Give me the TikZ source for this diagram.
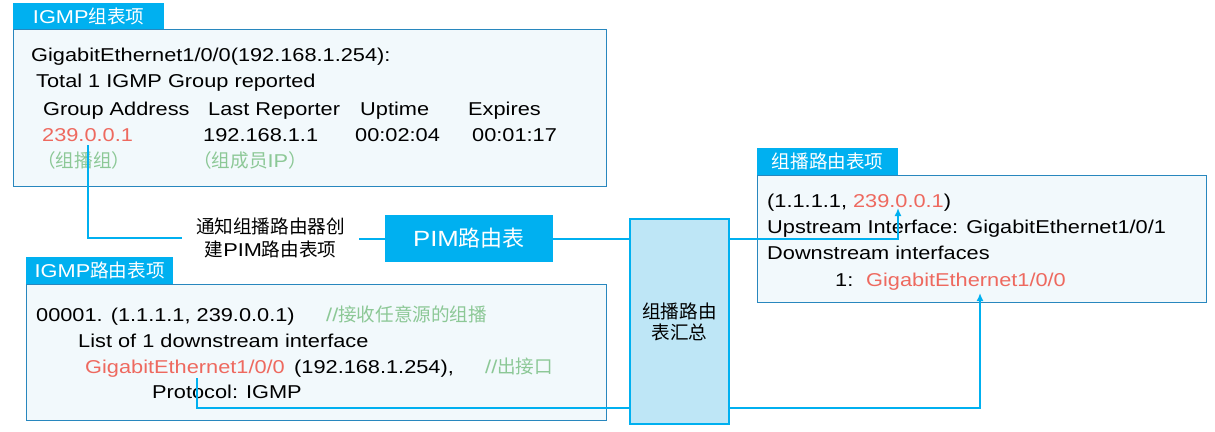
\documentclass[tikz,border=0pt]{standalone}
\usepackage{fontspec}
\setmainfont{Liberation Sans}[FakeStretch=1.17]
\newfontfamily\cjk{Noto Sans CJK SC}
\usetikzlibrary{arrows.meta}
\definecolor{skyb}{RGB}{0,176,240}
\definecolor{boxline}{RGB}{40,135,190}
\definecolor{boxfill}{RGB}{242,249,252}
\definecolor{sumfill}{RGB}{190,230,246}
\definecolor{redt}{RGB}{238,105,95}
\definecolor{greent}{RGB}{140,200,150}
\newcommand\myfs{\fontsize{18.6}{22}\selectfont}
\newcommand\zh[1]{{\cjk #1}}
\tikzset{
  txt/.style={inner sep=0pt, anchor=base west, font=\myfs},
  box/.style={draw=boxline, line width=1.2pt, fill=boxfill, anchor=north west, inner sep=0pt},
  tabbox/.style={fill=skyb, anchor=north west, inner sep=0pt, text=white, font=\myfs},
  conn/.style={draw=skyb, line width=2pt},
  tipped/.style={-{Latex[length=8pt,width=7pt]}},
}
\begin{document}
\begin{tikzpicture}[x=1pt,y=-1pt]
\useasboundingbox (0,0) rectangle (1215,431);

% ---------- IGMP group table box
\node[box, minimum width=593pt, minimum height=157pt] (g1) at (13,29) {};
\node[tabbox, minimum width=151pt, minimum height=26pt] (t1) at (13,3) {IGMP\zh{组表项}};
\node[txt] (g1a) at (31,61) {GigabitEthernet1/0/0(192.168.1.254):};
\node[txt] (g1b) at (36,87) {Total 1 IGMP Group reported};
\node[txt] (g1c) at (43,115) {Group Address};
\node[txt] (g1d) at (208,115) {Last Reporter};
\node[txt] (g1e) at (360,115) {Uptime};
\node[txt] (g1f) at (468,115) {Expires};
\node[txt, text=redt] (g1g) at (42,141) {239.0.0.1};
\node[txt] (g1h) at (203,141) {192.168.1.1};
\node[txt] (g1i) at (355,141) {00:02:04};
\node[txt] (g1j) at (472,141) {00:01:17};
\node[txt, text=greent] (g1k) at (37,167) {\zh{（组播组）}};
\node[txt, text=greent] (g1l) at (193,167) {\zh{（组成员}IP\zh{）}};

% ---------- IGMP routing table box
\node[box, minimum width=580pt, minimum height=136pt] (g2) at (26,284) {};
\node[tabbox, minimum width=147pt, minimum height=27pt] (t2) at (26,257) {IGMP\zh{路由表项}};
\node[txt] (g2a) at (36,321) {00001. (1.1.1.1, 239.0.0.1)};
\node[txt, text=greent] (g2b) at (326,321) {//\zh{接收任意源的组播}};
\node[txt] (g2c) at (78,347) {List of 1 downstream interface};
\node[txt, text=redt] (g2d) at (85,373) {GigabitEthernet1/0/0};
\node[txt] (g2e) at (294,373) {(192.168.1.254),};
\node[txt, text=greent] (g2f) at (485,373) {//\zh{出接口}};
\node[txt] (g2g) at (152,398) {Protocol: IGMP};

% ---------- multicast routing table box
\node[box, minimum width=449pt, minimum height=127pt] (g3) at (757,175) {};
\node[tabbox, minimum width=141pt, minimum height=27pt] (t3) at (757,148) {\zh{组播路由表项}};
\node[txt] (g3a) at (767,207) {(1.1.1.1, \textcolor{redt}{239.0.0.1})};
\node[txt] (g3b) at (767,233) {Upstream Interface: GigabitEthernet1/0/1};
\node[txt] (g3c) at (767,259) {Downstream interfaces};
\node[txt] (g3d) at (835,286) {1:};
\node[txt, text=redt] (g3e) at (866,286) {GigabitEthernet1/0/0};

% ---------- PIM box and label
\node[fill=skyb, text=white, inner sep=0pt, minimum width=168pt, minimum height=47pt,
      font=\fontsize{22}{26}\selectfont] (pim) at (469,238.5) {PIM\zh{路由表}};
\node[inner sep=0pt, minimum width=177pt, align=center,
      font=\fontsize{18.6}{23}\selectfont] (lbl) at (270.5,238) {\zh{通知组播路由器创}\\\zh{建}PIM\zh{路由表项}};

% ---------- connector points
\coordinate (s1) at (88,145);
\coordinate (s2) at (197,378);
\coordinate (e1) at (898,208);
\coordinate (e2) at (980,293);
\coordinate (sumw) at (630,321);
\coordinate (sume) at (729,321);

% ---------- connectors
\draw[conn] (s1) |- (lbl.west);
\draw[conn] (lbl.east |- pim.west) -- (pim.west);
\draw[conn] (pim.east) -- (pim.east -| sumw);
\draw[conn, tipped] (pim.east -| sume) -| (e1);
\draw[conn] (s2) |- (sumw |- 0,408);
\draw[conn, tipped] (sume |- 0,408) -| (e2);

% ---------- summary box (drawn over the connectors)
\node[draw=skyb, line width=1.3pt, fill=sumfill, inner sep=0pt,
      minimum width=99pt, minimum height=205pt, align=center,
      font=\fontsize{18.6}{21}\selectfont] (sum) at (679.5,321.5) {\zh{组播路由}\\\zh{表汇总}};
\end{tikzpicture}
\end{document}
